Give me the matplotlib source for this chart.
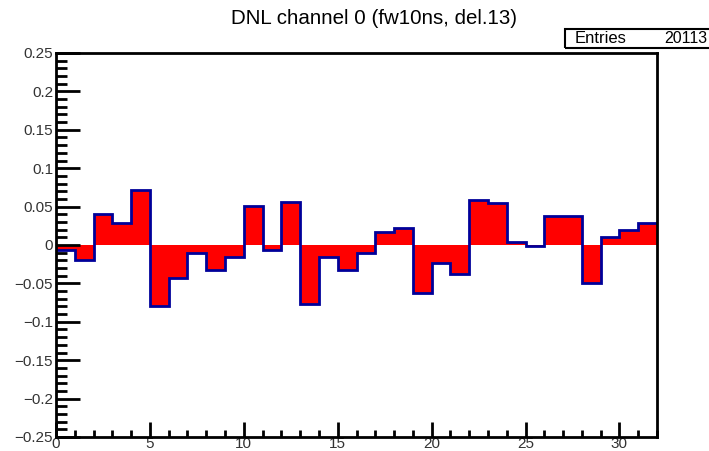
import numpy as np
import matplotlib
matplotlib.use('Agg')
import matplotlib.pyplot as plt
from matplotlib.ticker import MultipleLocator

plt.rcParams['font.family'] = ['Liberation Sans', 'DejaVu Sans']

# DNL per channel bin
bin_edges = np.arange(0, 33)
dnl = [-0.007, -0.020, 0.040, 0.029, 0.072, -0.080, -0.043, -0.010,
       -0.033, -0.016, 0.051, -0.006, 0.056, -0.077, -0.016, -0.033,
       -0.011, 0.017, 0.022, -0.062, -0.023, -0.038, 0.058, 0.055,
       0.004, -0.001, 0.038, 0.038, -0.050, 0.011, 0.020, 0.029]
title = "DNL channel 0 (fw10ns, del.13)"
entries = 20113

fig = plt.figure(figsize=(7.09, 4.51), dpi=100)
ax = fig.add_axes([56 / 709, 1 - 437 / 451, (657 - 56) / 709, (437 - 53) / 451])

ax.stairs(dnl, bin_edges, baseline=0, fill=True, color='#ff0000', lw=0)
ax.stairs(dnl, bin_edges, baseline=None, color='#000099', lw=2)

ax.set_xlim(0, 32)
ax.set_ylim(-0.25, 0.25)

ax.xaxis.set_major_locator(MultipleLocator(5))
ax.xaxis.set_minor_locator(MultipleLocator(1))
ax.yaxis.set_major_locator(MultipleLocator(0.05))
ax.yaxis.set_minor_locator(MultipleLocator(0.01))
ax.yaxis.set_major_formatter(plt.FuncFormatter(
    lambda v, p: '0' if abs(v) < 1e-9 else ('%g' % round(v, 2)).replace('-', '\u2212')))

ax.tick_params(axis='both', which='both', direction='in', top=False, right=False,
               width=2, labelsize=11, colors='black')
ax.tick_params(axis='y', which='major', length=17, pad=2)
ax.tick_params(axis='y', which='minor', length=8)
ax.tick_params(axis='x', which='major', length=11, pad=0)
ax.tick_params(axis='x', which='minor', length=5)
for lab in ax.get_xticklabels() + ax.get_yticklabels():
    lab.set_color('#333333')
for s in ax.spines.values():
    s.set_linewidth(2)

fig.text(374 / 709, 1 - 18 / 451, title, ha='center', va='center', fontsize=14.8)

# stats box
box_l, box_t, box_b = 565 / 709, 1 - 29 / 451, 1 - 48 / 451
fig.patches.append(plt.Rectangle((box_l, box_b), 1.0 - box_l + 0.01, box_t - box_b,
                                 transform=fig.transFigure, fill=False,
                                 edgecolor='black', lw=1.5))
fig.text(575 / 709, (box_t + box_b) / 2, "Entries", ha='left', va='center', fontsize=12)
fig.text(707 / 709, (box_t + box_b) / 2, str(entries), ha='right', va='center', fontsize=11.5)

fig.savefig('out.png', dpi=100, facecolor='white')
